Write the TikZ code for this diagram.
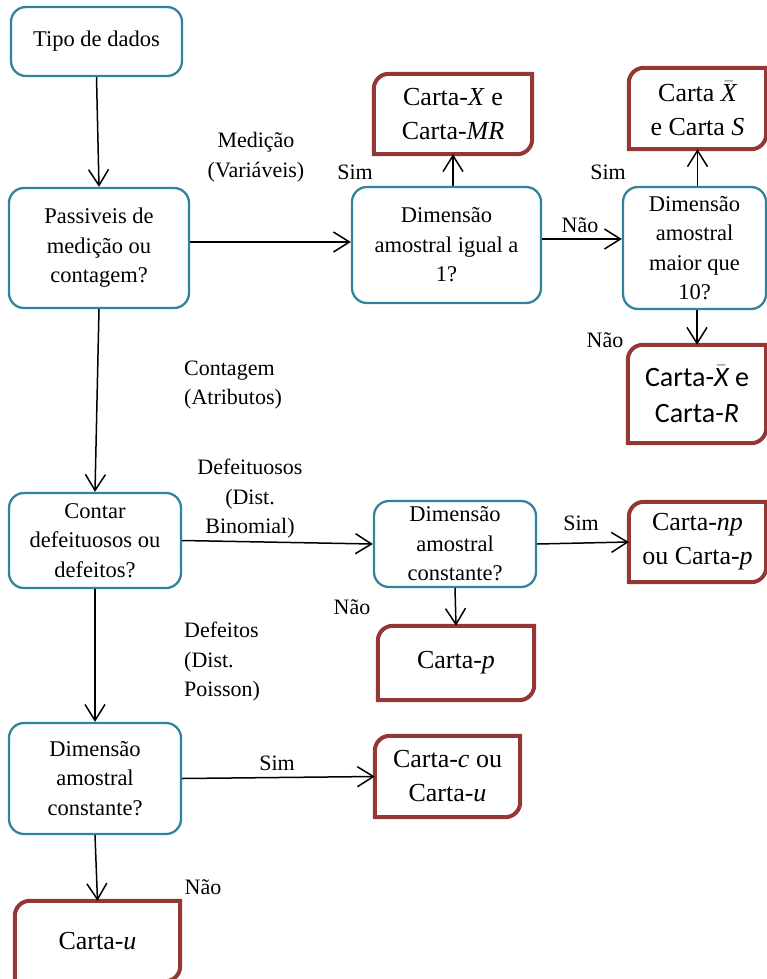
\documentclass[tikz,border=0pt]{standalone}
\usepackage{fontspec}
\setmainfont{Liberation Serif}
\newfontfamily\calibri{Carlito}
\usetikzlibrary{arrows.meta}

\definecolor{decteal}{RGB}{49,132,155}
\definecolor{resred}{RGB}{149,55,53}

\tikzset{
  decbox/.style={draw=decteal, line width=2.3pt, rounded corners=15pt, align=center,
    inner sep=2pt, font=\fontsize{22.5}{29.5}\selectfont},
  resbox/.style={align=center, inner sep=2pt, font=\fontsize{26}{34}\selectfont},
  resline/.style={draw=resred, line width=4pt},
  lbl/.style={align=center, inner sep=0pt, font=\fontsize{22}{29.5}\selectfont},
  arr/.style={line width=1.5pt, -{Straight Barb[length=16pt,width=20pt,line width=1.5pt]}}
}

% frame with two rounded corners (top left, bottom right)
\newcommand{\resframe}[1]{%
  \draw[resline] ([yshift=-15pt]#1.north west) -- (#1.south west)
    -- ([xshift=-15pt]#1.south east) arc[start angle=270, end angle=360, radius=15pt]
    -- (#1.north east) -- ([xshift=15pt]#1.north west)
    arc[start angle=90, end angle=180, radius=15pt] -- cycle;}

\newcommand{\xbarit}{$\bar{\mbox{\itshape X}}$}

\begin{document}
\begin{tikzpicture}[x=1pt, y=-1pt]

  \useasboundingbox (0,0) rectangle (767,979);

  % decisions
  \node[decbox, minimum width=171pt, minimum height=69pt] (tipo) at (96.5,41.5) {Tipo de dados};
  \node[decbox, minimum width=180pt, minimum height=120pt] (pass) at (99,248) {Passiveis de\\medição ou\\contagem?};
  \node[decbox, minimum width=189pt, minimum height=116pt] (dim1) at (446.5,245) {Dimensão\\amostral igual a\\1?};
  \node[decbox, minimum width=143pt, minimum height=122pt] (dim10) at (694.5,248) {Dimensão\\amostral\\maior que\\10?};
  \node[decbox, minimum width=172pt, minimum height=95pt] (cont) at (95,540.5) {Contar\\defeituosos ou\\defeitos?};
  \node[decbox, minimum width=162pt, minimum height=86pt] (dimc) at (455,544) {Dimensão\\amostral\\constante?};
  \node[decbox, minimum width=172pt, minimum height=111pt] (dimb) at (95,778.5) {Dimensão\\amostral\\constante?};

  % results
  \node[resbox, minimum width=158pt, minimum height=80pt] (xmr) at (453,114) {Carta-\textit{X} e\\Carta-\textit{MR}};
  \node[resbox, minimum width=137pt, minimum height=81pt] (xs) at (697.5,108.5) {Carta \xbarit\\e Carta \textit{S}};
  \node[resbox, minimum width=138pt, minimum height=98pt, font=\calibri\fontsize{28}{36}\selectfont] (xr) at (697,394) {Carta-\xbarit\ e\\Carta-\textit{R}};
  \node[resbox, minimum width=137pt, minimum height=80pt] (np) at (697.5,542) {Carta-\textit{np}\\ou Carta-\textit{p}};
  \node[resbox, minimum width=156pt, minimum height=74pt] (cp) at (456,663) {Carta-\textit{p}};
  \node[resbox, minimum width=145pt, minimum height=81pt] (cu) at (447.5,776.5) {Carta-\textit{c} ou\\Carta-\textit{u}};
  \node[resbox, minimum width=165pt, minimum height=80pt] (u) at (97.5,941) {Carta-\textit{u}};
  \resframe{xmr}
  \resframe{xs}
  \resframe{xr}
  \resframe{np}
  \resframe{cp}
  \resframe{cu}
  \resframe{u}

  % labels
  \node[lbl] (lmed) at (256,157) {Medição\\(Variáveis)};
  \node[lbl] (lsim1) at (355,172) {Sim};
  \node[lbl] (lnao1) at (580,225) {Não};
  \node[lbl] (lsim2) at (608,172) {Sim};
  \node[lbl] (lnao2) at (605,340) {Não};
  \node[lbl, anchor=west, align=left] (lcont) at (184,385) {Contagem\\(Atributos)};
  \node[lbl] (ldefu) at (250,499) {Defeituosos\\(Dist.\\Binomial)};
  \node[lbl] (lsim3) at (581,523) {Sim};
  \node[lbl] (lnao3) at (352,607) {Não};
  \node[lbl, anchor=west, align=left] (ldef) at (184,662) {Defeitos\\(Dist.\\Poisson)};
  \node[lbl] (lsim4) at (277,763) {Sim};
  \node[lbl] (lnao4) at (203,887) {Não};

  % connectors
  \draw[arr] (tipo.south) -- (pass.north);
  \draw[arr] ([yshift=6pt]pass.east) -- ([yshift=3pt]dim1.west);
  \draw[arr] (dim1.north -| xmr.south) -- (xmr.south);
  \draw[arr] ([yshift=6pt]dim1.east) -- ([yshift=9pt]dim10.west);
  \draw[arr] (dim10.north -| xs.south) -- (xs.south);
  \draw[arr] (dim10.south -| xr.north) -- (xr.north);
  \draw[arr] (pass.south) -- (cont.north);
  \draw[arr] (cont.east) -- (dimc.west);
  \draw[arr] (dimc.east) -- (np.west);
  \draw[arr] (dimc.south) -- (cp.north);
  \draw[arr] (cont.south) -- (dimb.north);
  \draw[arr] (dimb.east) -- (cu.west);
  \draw[arr] (dimb.south) -- (u.north);

\end{tikzpicture}
\end{document}
